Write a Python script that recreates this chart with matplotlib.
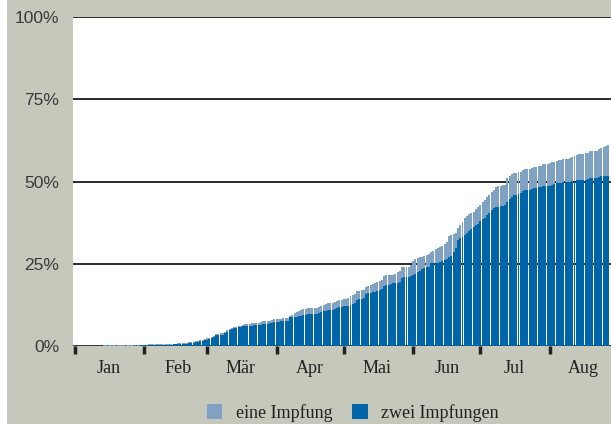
import matplotlib
matplotlib.use("Agg")
import matplotlib.pyplot as plt
import matplotlib.dates as mdates
from matplotlib.patches import Patch, Rectangle
from matplotlib.ticker import FuncFormatter
import numpy as np
import pandas as pd

# ---- data (percent of population) ----
start_date = "2021-01-01"
month_names = ["Jan", "Feb", "Mär", "Apr", "Mai", "Jun", "Jul", "Aug"]
y_ticks = [0, 25, 50, 75, 100]
y_labels = ["0%", "25%", "50%", "75%", "100%"]
legend_labels = ["eine Impfung", "zwei Impfungen"]

# at least one dose (top of light bars)
jan_one = [0, 0, 0, 0.02, 0.03, 0.04, 0.05, 0.06, 0.07, 0.08,
           0.10, 0.12, 0.14, 0.16, 0.18, 0.20, 0.21, 0.22, 0.24, 0.26,
           0.28, 0.30, 0.32, 0.33, 0.34, 0.35, 0.36, 0.37, 0.38, 0.39, 0.40]
feb_one = [0.42, 0.44, 0.46, 0.48, 0.50, 0.52, 0.54, 0.56, 0.58, 0.60,
           0.62, 0.64, 0.66, 0.68, 0.72, 0.78, 0.84, 0.90, 0.95,
           1.0, 1.1, 1.2, 1.3, 1.4, 1.6, 1.8, 1.95, 2.1]
mar_one = [2.3, 2.5, 2.8, 3.0, 3.5, 3.6, 3.8, 3.9, 4.4, 4.8, 5.2, 5.6,
           5.7, 5.9, 6.0, 6.2, 6.3, 6.6, 6.7, 6.8, 6.9, 6.9, 7.0, 7.1, 7.2,
           7.5, 7.6, 7.6, 7.7, 8.0, 8.1]
apr_one = [8.2, 8.2, 8.3, 8.4, 8.4, 8.5, 9.1, 9.5, 9.9, 10.2,
           10.7, 10.9, 11.1, 11.2, 11.5, 11.5, 11.6, 11.6, 11.7,
           12.0, 12.3, 12.5, 12.7, 13.1, 13.2, 13.2, 13.3, 13.8, 14.0, 14.1]
may_one = [14.2, 14.3, 14.7, 15.1, 15.5, 15.8, 16.7, 16.8, 16.9, 17.0,
           18.0, 18.2, 18.5, 18.7, 19.2, 19.5, 19.8, 20.1, 21.4, 21.5, 21.5, 21.6,
           21.6, 22.0, 22.5, 22.9, 24.0, 24.0, 24.1, 24.1, 24.6]
jun_one = [25.9, 26.3, 26.7, 27.0, 27.0, 27.3, 27.7, 28.0, 28.7, 29.0, 29.4, 29.7,
           30.0, 30.5, 31.1, 31.7, 33.4, 33.7, 34.0, 34.3, 35.8, 36.8, 37.8, 38.8,
           39.5, 40.0, 40.4, 40.8, 41.5, 42.2]
jul_one = [42.9, 43.9, 44.4, 45.4, 46.0, 46.7, 47.4, 48.4, 48.5, 48.7, 48.8, 48.9,
           51.0, 51.7, 52.3, 52.5, 52.7, 52.8, 53.0, 53.5, 53.7, 53.8, 53.9, 54.0,
           54.3, 54.4, 54.6, 54.7, 55.2, 55.3, 55.4]
aug_one = [55.5, 55.8, 56.0, 56.2, 56.5, 56.5, 56.7, 56.8, 56.9, 57.0,
           57.4, 57.7, 58.0, 58.3, 58.4, 58.5, 58.7, 58.8, 59.3, 59.3, 59.4, 59.4,
           59.9, 60.2, 60.5, 60.8, 61.1]

# fully vaccinated (dark bars)
jan_two = [0, 0, 0, 0, 0, 0, 0, 0, 0, 0, 0, 0, 0, 0, 0, 0, 0, 0, 0, 0,
           0, 0, 0, 0, 0.05, 0.08, 0.10, 0.12, 0.14, 0.16, 0.18]
feb_two = [0.20, 0.22, 0.24, 0.26, 0.28, 0.30, 0.32, 0.34, 0.36, 0.38,
           0.40, 0.42, 0.45, 0.48, 0.52, 0.56, 0.60, 0.65, 0.70,
           0.75, 0.82, 0.90, 1.0, 1.1, 1.3, 1.45, 1.6, 1.7]
mar_two = [1.9, 2.2, 2.5, 2.7, 3.2, 3.3, 3.3, 3.4, 4.0, 4.4, 4.9, 5.3,
           5.4, 5.6, 5.7, 5.9, 6.0, 6.1, 6.1, 6.1, 6.1, 6.3, 6.3, 6.4, 6.4,
           6.7, 6.8, 6.8, 6.9, 7.1, 7.2]
apr_two = [7.3, 7.4, 7.6, 7.6, 7.6, 7.7, 8.7, 8.7, 8.7, 8.8,
           9.1, 9.2, 9.3, 9.4, 9.7, 9.7, 9.8, 9.8, 9.8,
           10.1, 10.3, 10.5, 10.7, 10.9, 11.0, 11.0, 11.1, 11.7, 11.8, 12.0]
may_two = [12.1, 12.2, 12.3, 12.6, 12.9, 13.1, 14.0, 14.2, 14.4, 14.5,
           15.8, 16.0, 16.1, 16.3, 16.4, 16.7, 17.0, 17.3, 18.3, 18.5, 18.6, 18.7,
           19.0, 19.2, 19.3, 19.5, 20.8, 20.9, 21.0, 21.1, 21.3]
jun_two = [21.6, 22.0, 22.4, 22.8, 23.3, 23.6, 23.9, 24.1, 25.1, 25.2, 25.2, 25.3,
           25.6, 25.8, 26.0, 26.3, 27.0, 27.5, 28.5, 29.7, 32.2, 32.7, 33.2, 33.7,
           34.4, 35.0, 35.6, 36.1, 36.8, 37.2]
jul_two = [38.0, 38.5, 39.0, 39.8, 40.5, 41.2, 41.9, 42.1, 42.3, 42.5, 42.7, 42.9,
           43.9, 44.6, 45.2, 45.9, 46.0, 46.2, 46.4, 47.2, 47.3, 47.4, 47.5, 47.6,
           47.9, 48.1, 48.2, 48.4, 48.6, 48.6, 48.6]
aug_two = [48.7, 48.9, 49.2, 49.4, 49.6, 49.6, 49.7, 49.8, 49.8, 49.9,
           50.2, 50.3, 50.4, 50.5, 50.5, 50.6, 50.6, 50.7, 51.0, 51.0, 51.0, 51.0,
           51.5, 51.6, 51.6, 51.7, 51.8]

one_dose = np.array(jan_one + feb_one + mar_one + apr_one + may_one + jun_one + jul_one + aug_one)
two_dose = np.array(jan_two + feb_two + mar_two + apr_two + may_two + jun_two + jul_two + aug_two)
dates = pd.date_range(start_date, periods=len(one_dose), freq="D")

# ---- style ----
BG = "#c5c8bb"
LIGHT = "#7fa2c3"
DARK = "#0064a8"
GRID = "#2b2b2b"

fig = plt.figure(figsize=(6.11, 4.24), dpi=100, facecolor=BG)
fig.patches.append(Rectangle((0, 0), 7 / 611, 1, transform=fig.transFigure,
                             facecolor="white", edgecolor="none", zorder=-1))
ax = fig.add_axes([73 / 611, 78 / 424, 538 / 611, 329 / 424])
ax.set_facecolor("white")

x = mdates.date2num(dates)
ax.bar(x, one_dose, width=0.88, color=LIGHT, linewidth=0, antialiased=False, zorder=3)
ax.bar(x, two_dose, width=0.88, color=DARK, linewidth=0, antialiased=False, zorder=4)

x0 = mdates.date2num(pd.Timestamp(start_date))
ax.set_xlim(x0 - 0.9, x0 + 239.3)
ax.set_ylim(0, 100)

for v in y_ticks[1:]:
    ax.axhline(v, color=GRID, lw=1.4, zorder=1)
ax.axhline(0, color="#222222", lw=2, zorder=1)

for s in ax.spines.values():
    s.set_visible(False)

ax.set_yticks(y_ticks)
ax.set_yticklabels(y_labels, fontfamily="Liberation Sans", fontsize=12.5, color="#3a3a3a")
ax.tick_params(axis="y", length=0, pad=10)

# month ticks at month starts, labels mid-month
ax.xaxis.set_major_locator(mdates.MonthLocator())
ax.xaxis.set_major_formatter(FuncFormatter(lambda v, p: ""))
ax.xaxis.set_minor_locator(mdates.MonthLocator(bymonthday=16))
ax.xaxis.set_minor_formatter(FuncFormatter(
    lambda v, p: month_names[mdates.num2date(v).month - 1]
    if mdates.num2date(v).month - 1 < len(month_names) else ""))
ax.tick_params(axis="x", which="major", length=6, width=2.5, color="#222222", direction="out")
ax.tick_params(axis="x", which="minor", length=0, pad=10)
for lab in ax.get_xticklabels(minor=True):
    lab.set_fontfamily("Liberation Serif")
    lab.set_fontsize(13)
    lab.set_color("#222222")

handles = [Patch(facecolor=LIGHT, edgecolor="none"), Patch(facecolor=DARK, edgecolor="none")]
leg = fig.legend(handles, legend_labels, loc="center", bbox_to_anchor=(353 / 611, 11 / 424),
                 ncol=2, frameon=False, handlelength=0.85, handleheight=0.85,
                 handletextpad=0.75, columnspacing=1.1,
                 prop={"family": "Liberation Serif", "size": 13})
for t in leg.get_texts():
    t.set_color("#222222")

fig.savefig("out.png", dpi=100, facecolor=BG)
